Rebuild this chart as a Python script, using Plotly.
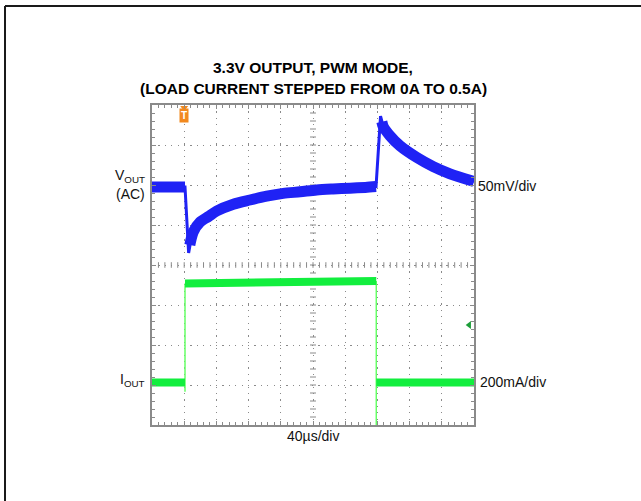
import plotly.graph_objects as go

# Time in microseconds (40 us/div, 10 div); amplitude in screen divisions (8 div)
t_vout_pre = [0, 20, 41]
vout_pre = [5.95, 5.95, 5.95]
t_vout_dip = [45.5, 47, 48.5, 51.3, 59.6, 70, 80.4, 101, 121.7, 142.5, 163, 184, 204.6, 225, 246, 265, 278.3]
vout_dip = [4.30, 4.50, 4.64, 4.83, 5.07, 5.21, 5.35, 5.52, 5.625, 5.72, 5.79, 5.83, 5.875, 5.90, 5.92, 5.94, 5.96]
t_vout_peak = [283.9, 285.5, 287.3, 295.7, 308, 328.8, 349.4, 370.2, 400]
vout_peak = [7.72, 7.58, 7.46, 7.23, 6.98, 6.69, 6.46, 6.28, 6.09]

t_iout_lo1 = [0, 41]
iout_lo1 = [1.06, 1.06]
t_iout_hi = [41, 120, 200, 278.6]
iout_hi = [3.54, 3.56, 3.58, 3.60]
t_iout_lo2 = [278.6, 400]
iout_lo2 = [1.06, 1.06]
t_iout_rise = [41, 41]
iout_rise = [0.83, 3.54]
t_iout_fall = [278.6, 278.6]
iout_fall = [3.60, 0.0]

trigger_t = 40
ground_t, ground_div = 394, 2.5

title_lines = ["3.3V OUTPUT, PWM MODE,", "(LOAD CURRENT STEPPED FROM 0A TO 0.5A)"]

BLUE = "#1f22f5"
GREEN = "#12ee3e"
GREEN_EDGE = "#66ff66"
GRID = "#8a8a8a"
FONT = "Liberation Sans, Arial, sans-serif"

fig = go.Figure()

# thin full voltage waveform (edges and spike tips)
fig.add_trace(go.Scatter(x=t_vout_pre + t_vout_dip + t_vout_peak,
                         y=vout_pre + vout_dip + vout_peak,
                         mode="lines", line=dict(color=BLUE, width=3),
                         hoverinfo="skip", showlegend=False))
# thick noisy band segments
fig.add_trace(go.Scatter(x=t_vout_pre + [None] + t_vout_dip[1:] + [None] + t_vout_peak[1:],
                         y=vout_pre + [None] + vout_dip[1:] + [None] + vout_peak[1:],
                         mode="lines", line=dict(color=BLUE, width=11, shape="spline", smoothing=0.8),
                         connectgaps=False, hoverinfo="skip", showlegend=False))

# current edges
fig.add_trace(go.Scatter(x=t_iout_rise + [None] + t_iout_fall,
                         y=iout_rise + [None] + iout_fall,
                         mode="lines", line=dict(color=GREEN_EDGE, width=1.5),
                         connectgaps=False, hoverinfo="skip", showlegend=False))
# current band segments
fig.add_trace(go.Scatter(x=t_iout_lo1 + [None] + t_iout_hi + [None] + t_iout_lo2,
                         y=iout_lo1 + [None] + iout_hi + [None] + iout_lo2,
                         mode="lines", line=dict(color=GREEN, width=8),
                         connectgaps=False, hoverinfo="skip", showlegend=False))

# trigger marker notch and ground marker
fig.add_trace(go.Scatter(x=[trigger_t], y=[7.93], mode="markers",
                         marker=dict(symbol="triangle-down", size=7, color="#f2891e"),
                         cliponaxis=False, hoverinfo="skip", showlegend=False))
fig.add_trace(go.Scatter(x=[ground_t], y=[ground_div], mode="markers",
                         marker=dict(symbol="triangle-left", size=7, color="#1d9e3a"),
                         cliponaxis=False, hoverinfo="skip", showlegend=False))

# center-line minor ticks
shapes = []
for k in range(1, 40):
    y = k * 0.2
    shapes.append(dict(type="line", xref="x", yref="y", x0=196.3, x1=203.7, y0=y, y1=y,
                       line=dict(color=GRID, width=1), layer="below"))
for k in range(1, 50):
    x = k * 8
    shapes.append(dict(type="line", xref="x", yref="y", x0=x, x1=x, y0=3.93, y1=4.07,
                       line=dict(color=GRID, width=1), layer="below"))
# outer frame (left and top)
shapes.append(dict(type="line", xref="paper", yref="paper", x0=-0.4565, x1=-0.4565,
                   y0=-0.24, y1=1.309, line=dict(color="#1a1a1a", width=2)))
shapes.append(dict(type="line", xref="paper", yref="paper", x0=-0.4565, x1=1.52,
                   y0=1.309, y1=1.309, line=dict(color="#1a1a1a", width=2)))

LBL = dict(family=FONT, size=14, color="#111")
ann = []
ann.append(dict(xref="paper", yref="paper", x=0.5, y=1.116, text="<b>%s</b>" % title_lines[0],
                showarrow=False, font=dict(family=FONT, size=15.5, color="#000"),
                xanchor="center", yanchor="middle"))
ann.append(dict(xref="paper", yref="paper", x=0.5, y=1.053, text="<b>%s</b>" % title_lines[1],
                showarrow=False, font=dict(family=FONT, size=15.5, color="#000"),
                xanchor="center", yanchor="middle"))
ann.append(dict(xref="paper", yref="y", x=-0.016, y=6.22, text="V<sub>OUT</sub>",
                showarrow=False, font=LBL, xanchor="right", yanchor="middle"))
ann.append(dict(xref="paper", yref="y", x=-0.016, y=5.77, text="(AC)",
                showarrow=False, font=LBL, xanchor="right", yanchor="middle"))
ann.append(dict(xref="paper", yref="y", x=-0.016, y=1.12, text="I<sub>OUT</sub>",
                showarrow=False, font=LBL, xanchor="right", yanchor="middle"))
ann.append(dict(xref="paper", yref="y", x=1.005, y=5.975, text="50mV/div",
                showarrow=False, font=LBL, xanchor="left", yanchor="middle"))
ann.append(dict(xref="paper", yref="y", x=1.012, y=1.075, text="200mA/div",
                showarrow=False, font=LBL, xanchor="left", yanchor="middle"))
ann.append(dict(xref="paper", yref="paper", x=0.5, y=-0.033, text="40µs/div",
                showarrow=False, font=LBL, xanchor="center", yanchor="middle"))
ann.append(dict(xref="x", yref="y", x=trigger_t, y=7.73, text="<b>T</b>",
                showarrow=False, font=dict(family=FONT, size=10, color="white"),
                bgcolor="#f2891e", borderpad=1, xanchor="center", yanchor="middle"))

axis_common = dict(showline=True, linecolor=GRID, linewidth=2, mirror="allticks",
                   ticks="inside", ticklen=4, tickcolor=GRID, tickwidth=1,
                   showticklabels=False, zeroline=False,
                   showgrid=True, gridcolor=GRID, gridwidth=1.2, griddash="1.2px,5.2px")

fig.update_layout(
    width=641, height=501,
    margin=dict(l=152, r=167, t=105, b=76),
    paper_bgcolor="white", plot_bgcolor="white",
    xaxis=dict(range=[0, 400], dtick=40, tick0=0,
               minor=dict(dtick=8, ticks="inside", ticklen=3, tickcolor=GRID, showgrid=False),
               **axis_common),
    yaxis=dict(range=[0, 8], dtick=1, tick0=0,
               minor=dict(dtick=0.2, ticks="inside", ticklen=3, tickcolor=GRID, showgrid=False),
               **axis_common),
    shapes=shapes, annotations=ann, showlegend=False,
)

fig.write_html("out.html", config={"displayModeBar": False},
               post_script="document.body.style.margin='0px';document.body.style.overflow='hidden';")
